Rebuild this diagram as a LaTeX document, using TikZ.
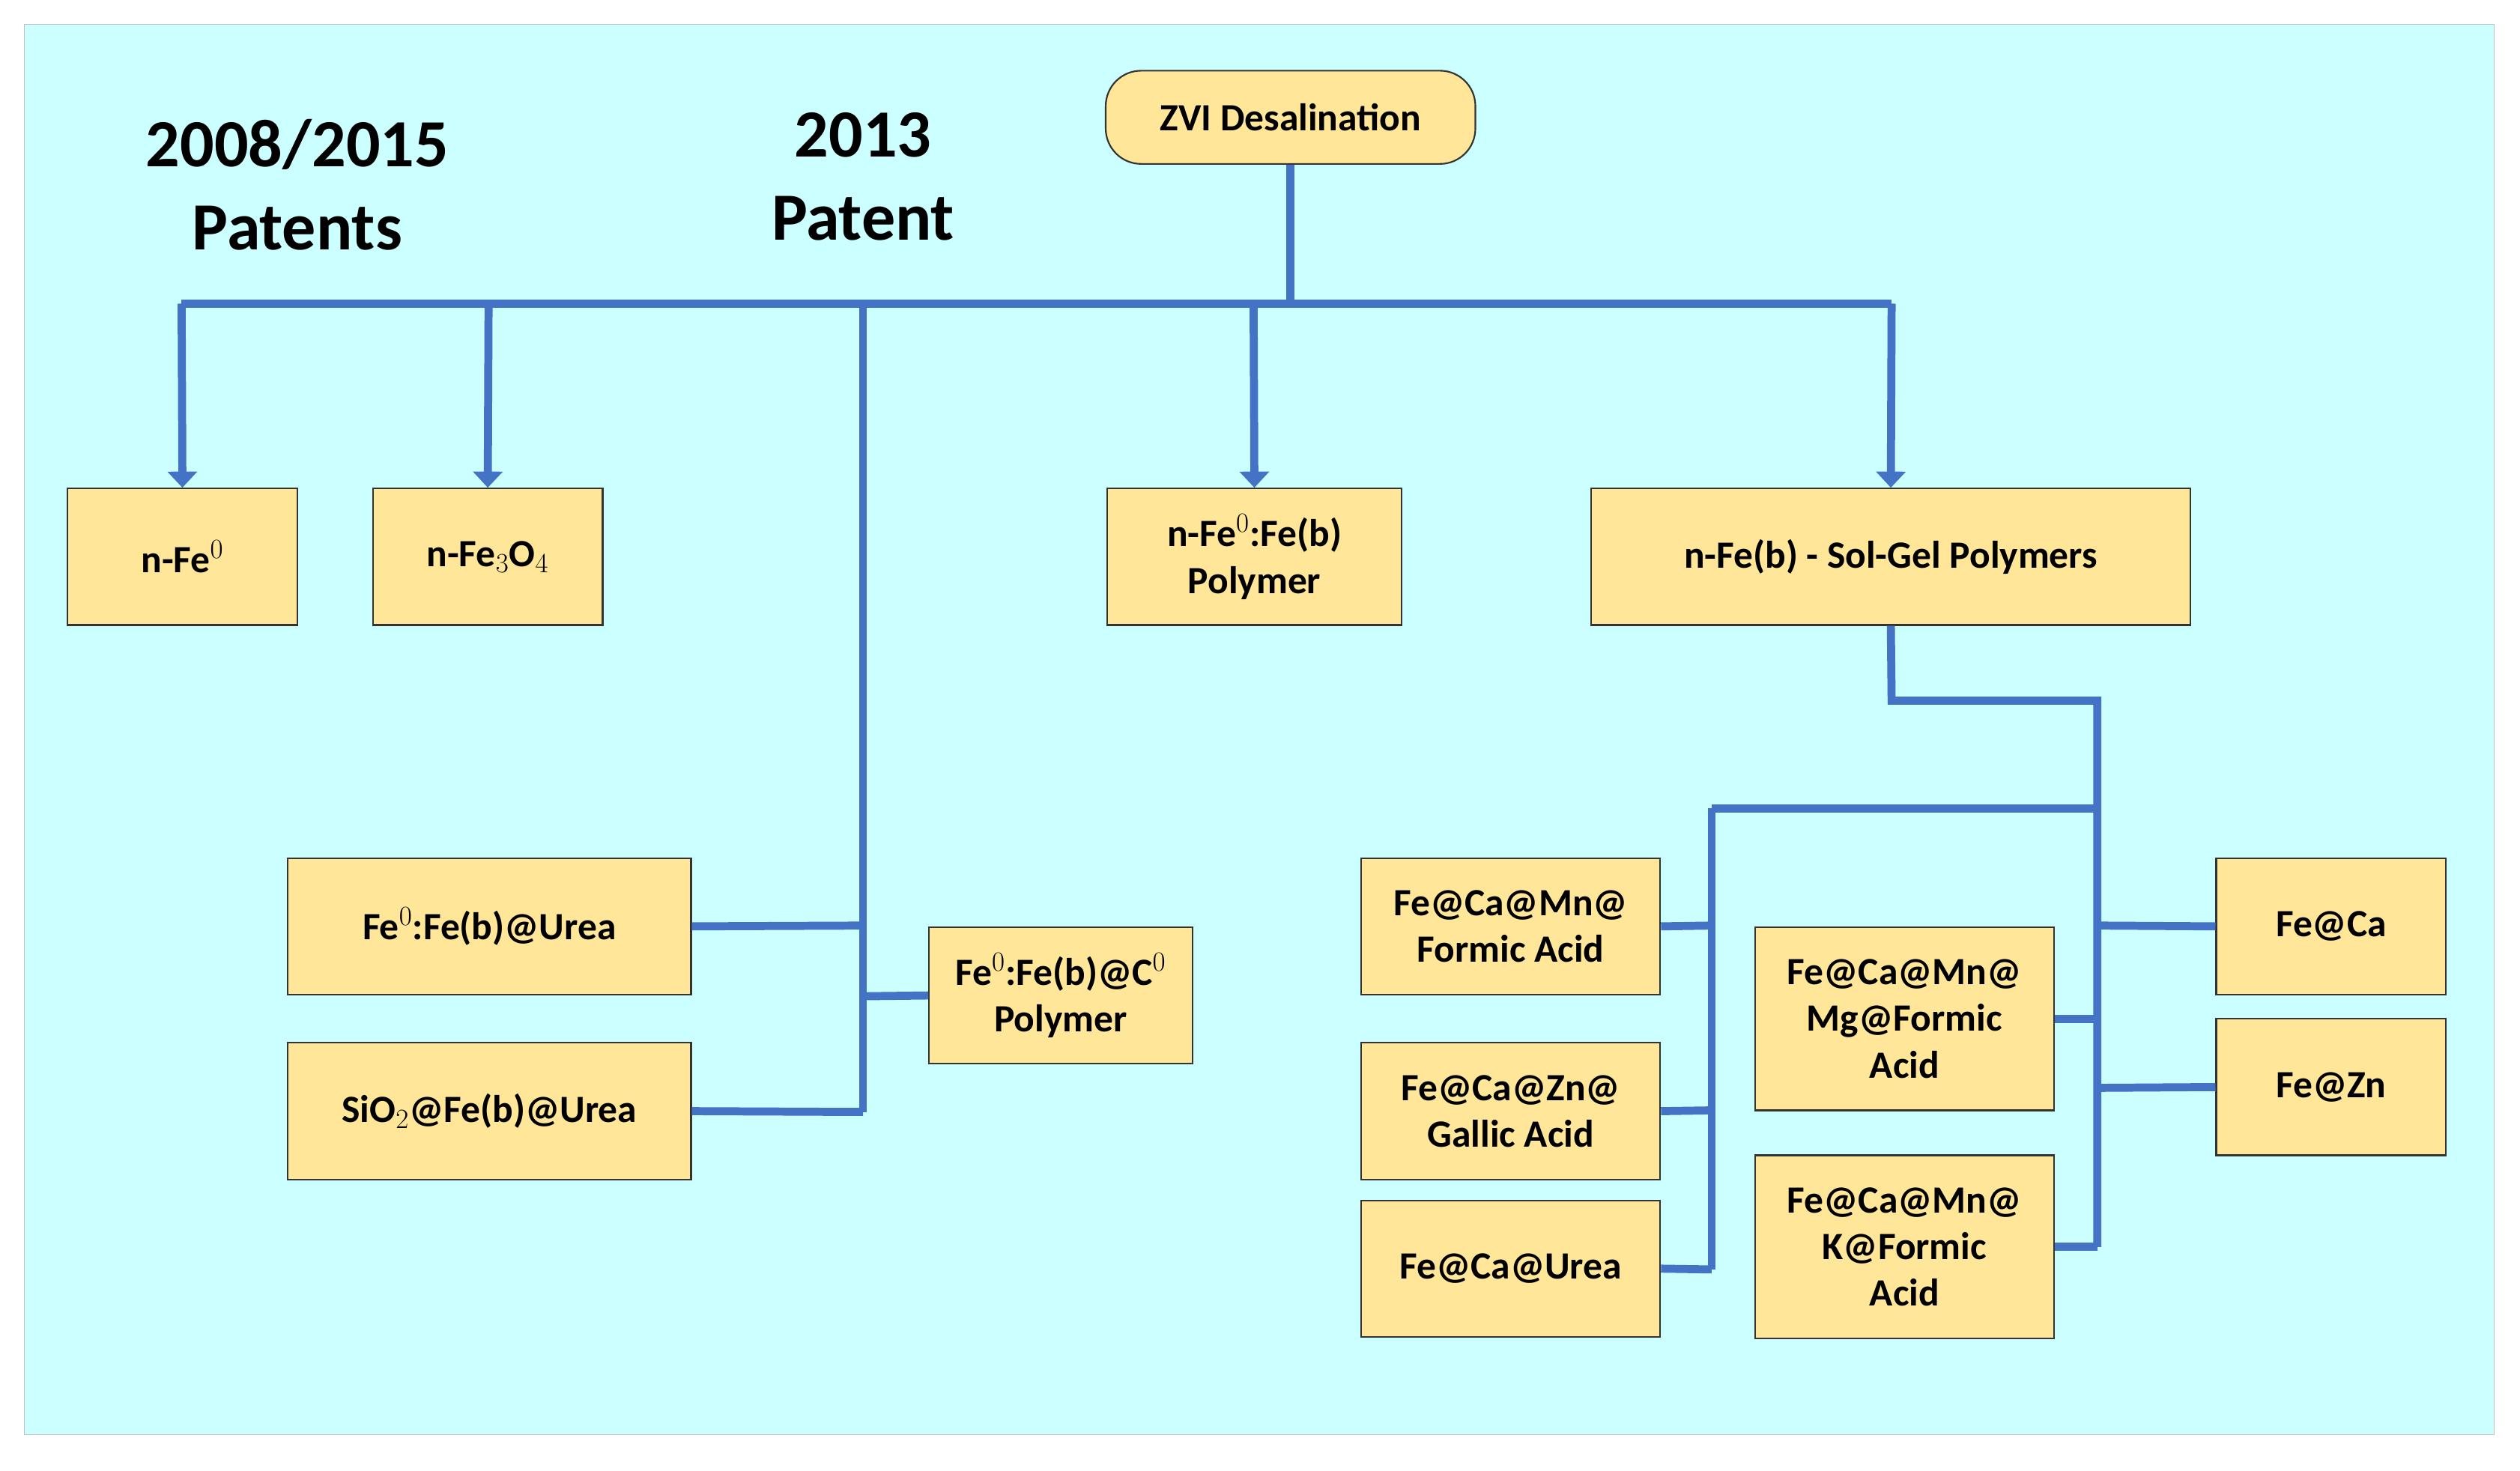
\documentclass[tikz,border=0pt]{standalone}
\usepackage{fontspec}
\setmainfont{Carlito}
\usetikzlibrary{arrows.meta}
\definecolor{bg}{HTML}{CCFFFF}
\definecolor{bx}{HTML}{FFE699}
\definecolor{ln}{HTML}{4472C4}
\begin{document}
\begin{tikzpicture}[x=1pt,y=-1pt,
 box/.style={draw=black!80,fill=bx,line width=1pt,inner sep=2pt,align=center,font=\fontsize{24}{29}\selectfont\bfseries},
 ttl/.style={align=center,font=\fontsize{42}{52}\selectfont\bfseries},
 con/.style={draw=ln,line width=5pt},
 arr/.style={con,-{Triangle[width=18pt,length=10pt]}}]
\useasboundingbox (0,0) rectangle (1568,915);
\fill[bg,draw=black!25] (15,15) rectangle (1552,893);
\newcommand{\bx}[6]{\node[box,minimum width=#4-#2,minimum height=#5-#3] (#1) at ({(#2+#4)/2},{(#3+#5)/2}) {#6};}
\node[box,rounded corners=22pt,minimum width=230,minimum height=58] (zvi) at (803,73) {ZVI Desalination};
\bx{a}{42}{304}{185}{389}{n-Fe$^{0}$}
\bx{b}{232}{304}{375}{389}{n-Fe$_3$O$_4$}
\bx{c}{689}{304}{872}{389}{n-Fe$^{0}$:Fe(b)\\Polymer}
\bx{d}{990}{304}{1363}{389}{n-Fe(b) - Sol-Gel Polymers}
\bx{e}{179}{534}{430}{619}{Fe$^{0}$:Fe(b)@Urea}
\bx{f}{179}{649}{430}{734}{SiO$_2$@Fe(b)@Urea}
\bx{g}{578}{577}{742}{662}{Fe$^{0}$:Fe(b)@C$^{0}$\\Polymer}
\bx{h}{847}{534}{1033}{619}{Fe@Ca@Mn@\\Formic Acid}
\bx{i}{847}{649}{1033}{734}{Fe@Ca@Zn@\\Gallic Acid}
\bx{j}{847}{747}{1033}{832}{Fe@Ca@Urea}
\bx{k}{1092}{577}{1278}{691}{Fe@Ca@Mn@\\Mg@Formic\\Acid}
\bx{l}{1092}{719}{1278}{833}{Fe@Ca@Mn@\\K@Formic\\Acid}
\bx{m}{1379}{534}{1522}{619}{Fe@Ca}
\bx{n}{1379}{634}{1522}{719}{Fe@Zn}
\node[ttl] (t1) at (185,115) {2008/2015\\Patents};
\node[ttl] (t2) at (537,110) {2013\\Patent};
% trunk
\coordinate (T) at (803,189);
\draw[con] (zvi.south) -- (T);
\draw[con] (113,189) -- (1177,189);
\draw[arr] (113,189) -- (a.north);
\draw[arr] (304,189) -- (b.north);
\draw[arr] (780,189) -- (c.north);
\draw[arr] (1177,189) -- (d.north);
% 2013 branch
\draw[con] (537,189) -- (537,692);
\draw[con] (e.east) -- (537,576);
\draw[con] (f.east) -- (537,692);
\draw[con] (537,620) -- (g.west);
% sol-gel branch
\draw[con] (d.south) -- (1177,436) -- (1305,436) -- (1305,776);
\draw[con] (1065,503) -- (1305,503);
\draw[con] (1065,503) -- (1065,790);
\draw[con] (h.east) -- (1065,576);
\draw[con] (i.east) -- (1065,691);
\draw[con] (j.east) -- (1065,790);
\draw[con] (1305,576) -- (m.west);
\draw[con] (1305,677) -- (n.west);
\draw[con] (k.east) -- (1305,634);
\draw[con] (l.east) -- (1305,776);
\end{tikzpicture}
\end{document}
